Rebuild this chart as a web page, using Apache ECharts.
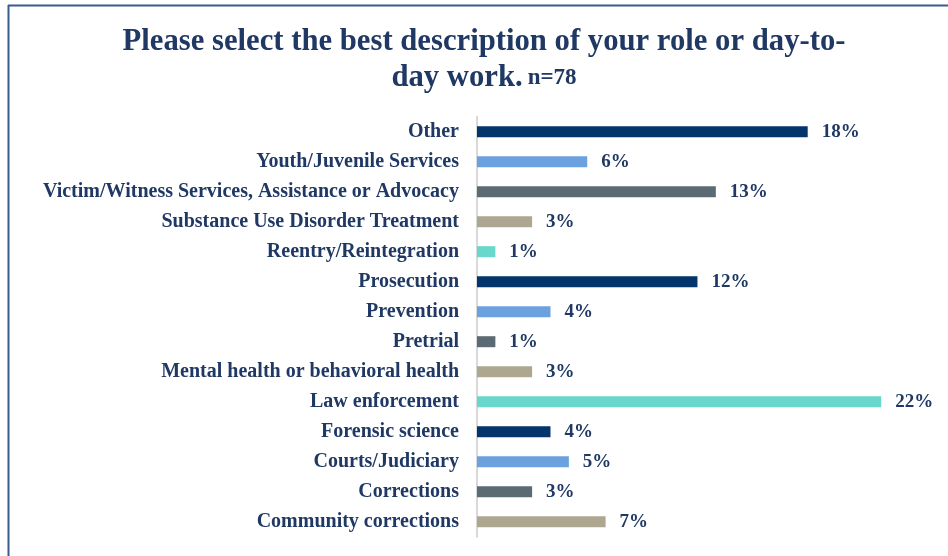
<!DOCTYPE html>
<html>
<head>
<meta charset="utf-8">
<script src="https://cdn.jsdelivr.net/npm/echarts@6/dist/echarts.min.js"></script>
<style>html,body{margin:0;padding:0;background:#fff}#c{width:948px;height:556px}</style>
</head>
<body>
<div id="c"></div>
<script>
// Data (top to bottom as displayed)
const categories = [
  'Other',
  'Youth/Juvenile Services',
  'Victim/Witness Services, Assistance or Advocacy',
  'Substance Use Disorder Treatment',
  'Reentry/Reintegration',
  'Prosecution',
  'Prevention',
  'Pretrial',
  'Mental health or behavioral health',
  'Law enforcement',
  'Forensic science',
  'Courts/Judiciary',
  'Corrections',
  'Community corrections'
];
const values = [18, 6, 13, 3, 1, 12, 4, 1, 3, 22, 4, 5, 3, 7];
const titleLine1 = 'Please select the best description of your role or day-to-';
const titleLine2 = 'day work.';
const sampleNote = 'n=78';

// Styling
const palette = ['#03356A', '#6CA1DF', '#5B6B73', '#ADA792', '#68D8CC'];
const textColor = '#1F3864';
const serif = '"Liberation Serif", "Times New Roman", serif';

const chart = echarts.init(document.getElementById('c'), null, {renderer: 'canvas'});
chart.setOption({
  animation: false,
  backgroundColor: '#ffffff',
  title: {
    text: '{a|' + titleLine1 + '}\n{a|' + titleLine2 + '} {b|' + sampleNote + '}',
    left: 479,
    textAlign: 'center',
    top: 19,
    textStyle: {
      rich: {
        a: {fontFamily: serif, fontWeight: 'bold', fontSize: 30.7, color: textColor, lineHeight: 36},
        b: {fontFamily: serif, fontWeight: 'bold', fontSize: 23, color: textColor, lineHeight: 36}
      }
    }
  },
  graphic: [
    {type: 'line', shape: {x1: 8, y1: 5.5, x2: 948, y2: 5.5}, style: {stroke: '#3A5B8E', lineWidth: 2}},
    {type: 'line', shape: {x1: 8.5, y1: 5, x2: 8.5, y2: 556}, style: {stroke: '#3A5B8E', lineWidth: 2}}
  ],
  grid: {left: 477, top: 116.7, height: 420, width: 459.3},
  xAxis: {
    type: 'value', min: 0, max: 25, show: false
  },
  yAxis: {
    type: 'category',
    data: categories,
    inverse: true,
    axisLine: {show: true, lineStyle: {color: '#D9D9D9', width: 2}},
    axisTick: {show: false},
    axisLabel: {
      margin: 18,
      fontFamily: serif, fontWeight: 'bold', fontSize: 20, color: textColor
    }
  },
  series: [{
    type: 'bar',
    barWidth: 11,
    data: values.map((v, i) => ({value: v, itemStyle: {color: palette[i % palette.length]}})),
    label: {
      show: true, position: 'right', distance: 14,
      formatter: p => p.value + '%',
      fontFamily: serif, fontWeight: 'bold', fontSize: 19, color: textColor
    }
  }]
});
</script>
</body>
</html>
